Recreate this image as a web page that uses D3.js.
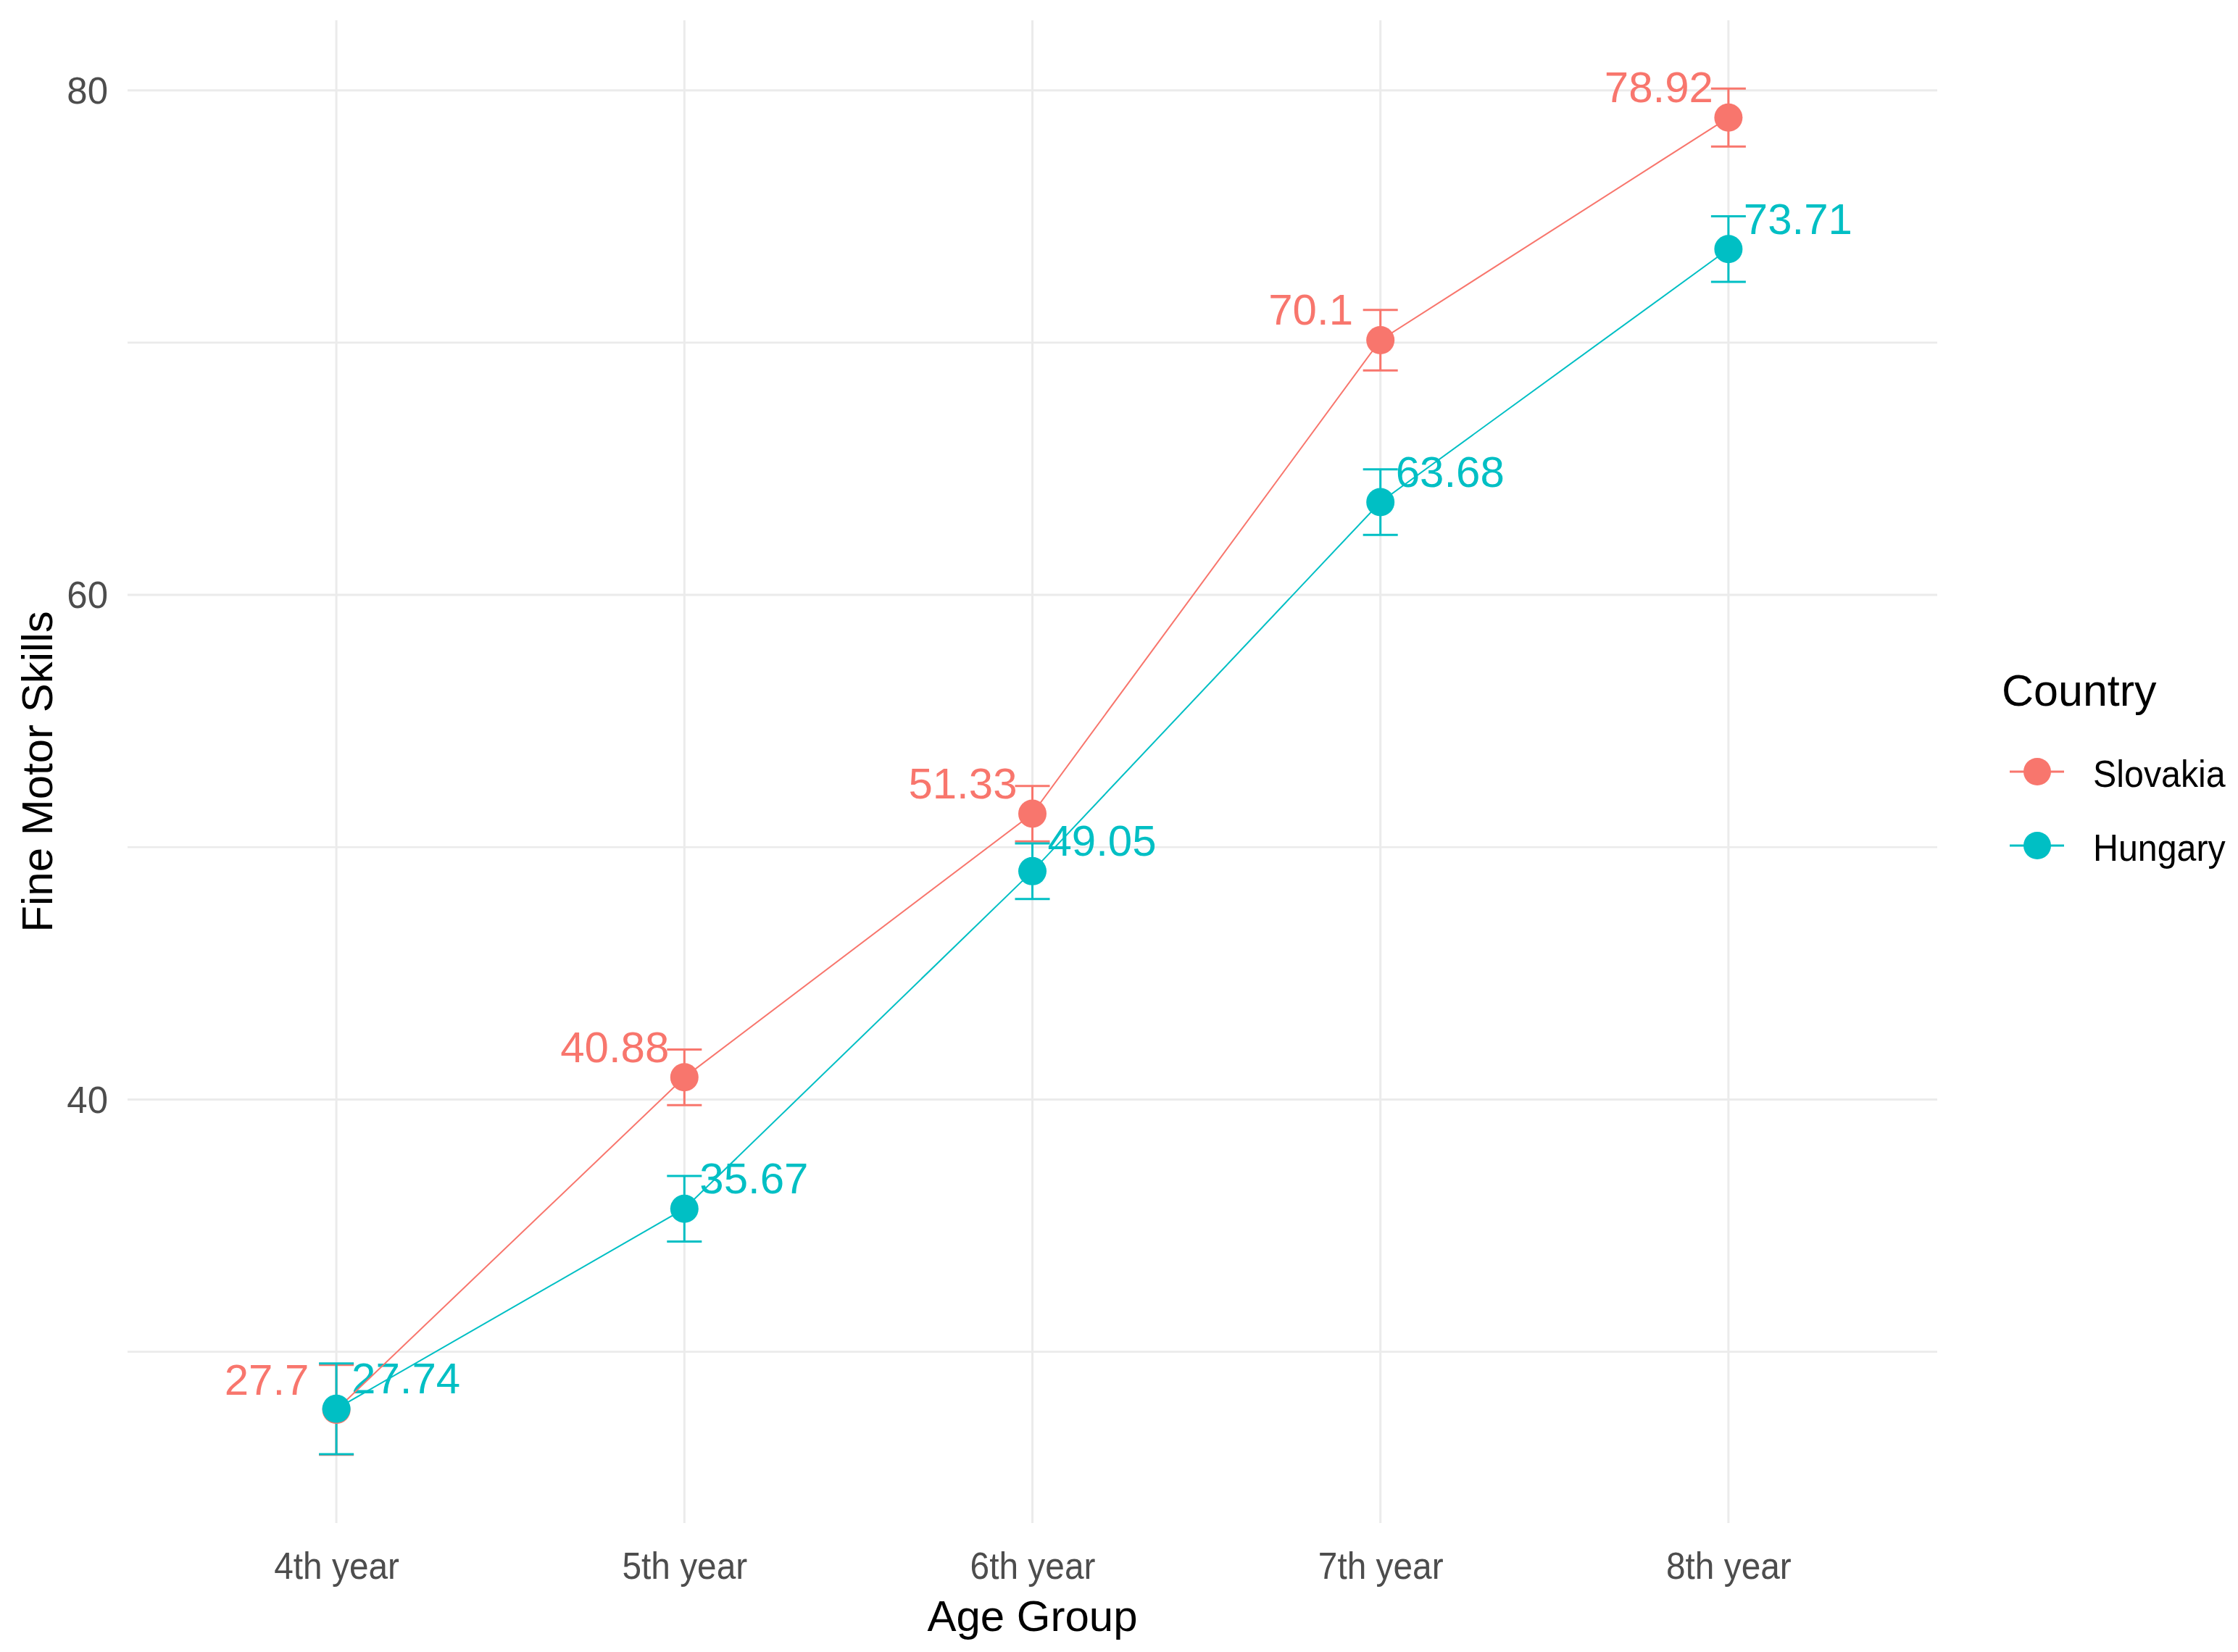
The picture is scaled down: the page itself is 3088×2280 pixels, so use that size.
<!DOCTYPE html>
<html>
<head>
<meta charset="utf-8">
<script src="https://cdn.jsdelivr.net/npm/d3@7"></script>
<style>
  html, body { margin: 0; padding: 0; background: #ffffff; }
  svg { display: block; }
  text { font-family: "Liberation Sans", Arial, sans-serif; }
</style>
</head>
<body>
<svg id="chart" width="3088" height="2280"></svg>
<script>
// ---- data ----
const categories = ["4th year", "5th year", "6th year", "7th year", "8th year"];
const countries = ["Slovakia", "Hungary"];
const slovakiaMean = [27.70, 40.88, 51.33, 70.10, 78.92];
const slovakiaErr  = [1.78, 1.10, 1.10, 1.20, 1.15];
const hungaryMean  = [27.74, 35.67, 49.05, 63.68, 73.71];
const hungaryErr   = [1.80, 1.30, 1.10, 1.30, 1.30];
const yMajorTicks = [40, 60, 80];
const yMinorTicks = [30, 50, 70];
const colors = ["#F8766D", "#00BFC4"];
const labelNudge = [-0.2, 0.2];

const series = [
  { name: countries[0], mean: slovakiaMean, err: slovakiaErr, color: colors[0], nudge: labelNudge[0] },
  { name: countries[1], mean: hungaryMean,  err: hungaryErr,  color: colors[1], nudge: labelNudge[1] }
];

// ---- layout ----
const panel = { left: 176, right: 2673, top: 28, bottom: 2102 };
const svg = d3.select("#chart");

const x = d3.scalePoint().domain(categories).range([panel.left, panel.right]).padding(0.6);
const step = x.step();

const lo = d3.min(series, s => d3.min(s.mean.map((m, i) => m - s.err[i])));
const hi = d3.max(series, s => d3.max(s.mean.map((m, i) => m + s.err[i])));
const pad = (hi - lo) * 0.05;
const y = d3.scaleLinear().domain([lo - pad, hi + pad]).range([panel.bottom, panel.top]);

const grid = svg.append("g");
grid.selectAll("line.hminor").data(yMinorTicks).join("line")
  .attr("x1", panel.left).attr("x2", panel.right)
  .attr("y1", d => y(d)).attr("y2", d => y(d))
  .attr("stroke", "#EBEBEB").attr("stroke-width", 2.6);
grid.selectAll("line.hmajor").data(yMajorTicks).join("line")
  .attr("x1", panel.left).attr("x2", panel.right)
  .attr("y1", d => y(d)).attr("y2", d => y(d))
  .attr("stroke", "#EBEBEB").attr("stroke-width", 3);
grid.selectAll("line.v").data(categories).join("line")
  .attr("x1", d => x(d)).attr("x2", d => x(d))
  .attr("y1", panel.top).attr("y2", panel.bottom)
  .attr("stroke", "#EBEBEB").attr("stroke-width", 3);

// axes (tick labels only, theme_minimal)
const yAxis = svg.append("g").attr("transform", `translate(${panel.left - 27},0)`)
  .call(d3.axisLeft(y).tickValues(yMajorTicks).tickSize(0).tickPadding(0));
yAxis.select(".domain").remove();
yAxis.selectAll("text").attr("font-size", 51).attr("fill", "#4D4D4D")
  .attr("font-family", "Liberation Sans, Arial, sans-serif").attr("dy", "0.35em");

const xAxis = svg.append("g").attr("transform", `translate(0,${panel.bottom})`)
  .call(d3.axisBottom(x).tickSize(0).tickPadding(0));
xAxis.select(".domain").remove();
xAxis.selectAll("text").attr("font-size", 52).attr("fill", "#4D4D4D")
  .attr("font-family", "Liberation Sans, Arial, sans-serif")
  .attr("dy", null).attr("y", 0)
  .attr("transform", "translate(0,77) scale(0.92,1)");

// axis titles
svg.append("text").attr("x", (panel.left + panel.right) / 2).attr("y", 2251)
  .attr("text-anchor", "middle").attr("font-size", 60).attr("fill", "#000")
  .text("Age Group");
svg.append("text")
  .attr("transform", `translate(72,${(panel.top + panel.bottom) / 2}) rotate(-90)`)
  .attr("text-anchor", "middle").attr("font-size", 60).attr("fill", "#000")
  .text("Fine Motor Skills");

// labels
const labels = svg.append("g");
series.forEach(s => {
  labels.selectAll(null).data(s.mean).join("text")
    .attr("x", (d, i) => x(categories[i]) + s.nudge * step)
    .attr("y", d => y(d) - 21)
    .attr("text-anchor", "middle").attr("font-size", 60).attr("fill", s.color)
    .text(d => String(d));
});

// lines
const line = d3.line().x((d, i) => x(categories[i])).y(d => y(d));
series.forEach(s => {
  svg.append("path").datum(s.mean).attr("d", line)
    .attr("fill", "none").attr("stroke", s.color).attr("stroke-width", 2);
});

// error bars
const capHalf = 0.05 * step;
series.forEach(s => {
  const g = svg.append("g").attr("stroke", s.color).attr("stroke-width", 3).attr("fill", "none");
  s.mean.forEach((m, i) => {
    const cx = x(categories[i]);
    const yt = y(m + s.err[i]), yb = y(m - s.err[i]);
    g.append("line").attr("x1", cx).attr("x2", cx).attr("y1", yt).attr("y2", yb);
    g.append("line").attr("x1", cx - capHalf).attr("x2", cx + capHalf).attr("y1", yt).attr("y2", yt);
    g.append("line").attr("x1", cx - capHalf).attr("x2", cx + capHalf).attr("y1", yb).attr("y2", yb);
  });
});

// points
series.forEach(s => {
  svg.append("g").selectAll("circle").data(s.mean).join("circle")
    .attr("cx", (d, i) => x(categories[i])).attr("cy", d => y(d))
    .attr("r", 19.5).attr("fill", s.color);
});

// legend
const legend = svg.append("g");
legend.append("text").attr("x", 2762).attr("y", 974).attr("font-size", 61).attr("fill", "#000").text("Country");
series.forEach((s, i) => {
  const cy = 1065 + i * 102;
  legend.append("line").attr("x1", 2773).attr("x2", 2848).attr("y1", cy).attr("y2", cy)
    .attr("stroke", s.color).attr("stroke-width", 3);
  legend.append("circle").attr("cx", 2811).attr("cy", cy).attr("r", 19).attr("fill", s.color);
  legend.append("text").attr("transform", `translate(2888,${cy + 21}) scale(0.93,1)`)
    .attr("font-size", 52).attr("fill", "#000").text(s.name);
});
</script>
</body>
</html>
